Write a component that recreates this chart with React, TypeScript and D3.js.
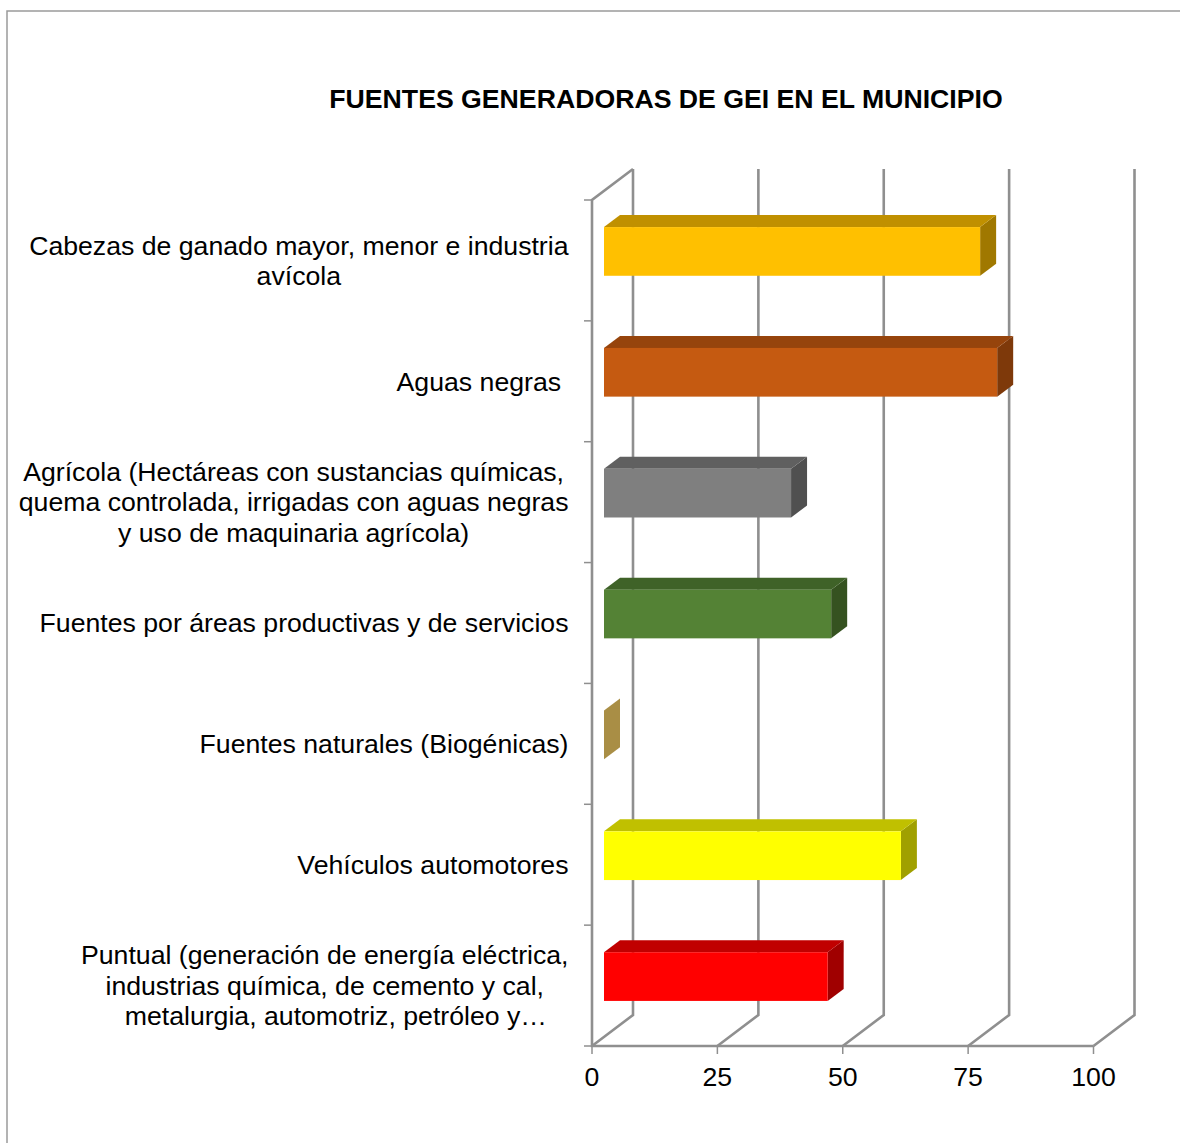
import { useEffect, useRef } from "react";
import * as d3 from "d3";

const title = "FUENTES GENERADORAS DE GEI EN EL MUNICIPIO";
const categories = ["ganado", "aguas", "agricola", "areas", "naturales", "vehiculos", "puntual"];
const labelLines = [
  ["Cabezas de ganado mayor, menor e industria", "avícola"],
  ["Aguas negras "],
  [
    "Agrícola (Hectáreas con sustancias químicas,",
    "quema controlada, irrigadas con aguas negras",
    "y uso de maquinaria agrícola)",
  ],
  ["Fuentes por áreas productivas y de servicios"],
  ["Fuentes naturales (Biogénicas)"],
  ["Vehículos automotores"],
  [
    "Puntual (generación de energía eléctrica,",
    "industrias química, de cemento y cal,",
    "   metalurgia, automotriz, petróleo y…",
  ],
];
const values = [75, 78.4, 37.3, 45.3, 0, 59.2, 44.6];
const frontColors = ["#ffc000", "#c55a11", "#7f7f7f", "#548235", "#ffffff", "#ffff00", "#ff0000"];
const topColors = ["#c09000", "#96440c", "#606060", "#3f6228", "#ffffff", "#c0c000", "#c00000"];
const sideColors = ["#a07800", "#7e390a", "#505050", "#355220", "#a98e45", "#a0a000", "#a00000"];
const xTicks = [0, 25, 50, 75, 100];

const FONT = "'Liberation Sans', Arial, sans-serif";
const GRID = "#8f8f8f";
const FONT_SIZE = 26.67;

export default function App() {
  const svgRef = useRef<SVGSVGElement | null>(null);

  useEffect(() => {
    const width = 1180;
    const height = 1143;
    const depth = { x: 41, y: 31 };
    const barDepth = { x: 16, y: 12 };

    const svg = d3.select(svgRef.current);
    svg.selectAll("*").remove();

    const x = d3.scaleLinear().domain([0, 100]).range([592, 1093.5]);
    const y = d3.scaleBand<string>().domain(categories).range([200, 1046]);
    const bottom = y.range()[1];
    const top = y.range()[0];

    // frame of the pasted chart
    svg
      .append("path")
      .attr("d", `M7,${height} V11 H${width}`)
      .attr("fill", "none")
      .attr("stroke", "#9a9a9a")
      .attr("stroke-width", 1.5);

    svg
      .append("text")
      .attr("x", 666)
      .attr("y", 108)
      .attr("text-anchor", "middle")
      .attr("font-family", FONT)
      .attr("font-size", FONT_SIZE)
      .attr("font-weight", "bold")
      .attr("fill", "#000")
      .text(title);

    // walls: back gridlines plus the floor slants
    const grid = svg
      .append("g")
      .attr("fill", "none")
      .attr("stroke", GRID)
      .attr("stroke-width", 2.6);
    xTicks.forEach((t) => {
      grid
        .append("path")
        .attr(
          "d",
          `M${x(t)},${bottom} L${x(t) + depth.x},${bottom - depth.y} V${top - depth.y}`
        );
    });
    grid
      .append("path")
      .attr("d", `M${x(0) + depth.x},${top - depth.y} L${x(0)},${top} V${bottom} H${x(100)}`);

    // ticks
    const ticks = svg.append("g").attr("stroke", GRID).attr("stroke-width", 1.5);
    categories.forEach((c) => {
      ticks
        .append("line")
        .attr("x1", x(0) - 8)
        .attr("x2", x(0))
        .attr("y1", y(c))
        .attr("y2", y(c));
    });
    ticks
      .append("line")
      .attr("x1", x(0) - 8)
      .attr("x2", x(0))
      .attr("y1", bottom)
      .attr("y2", bottom);
    xTicks.forEach((t) => {
      ticks
        .append("line")
        .attr("x1", x(t))
        .attr("x2", x(t))
        .attr("y1", bottom)
        .attr("y2", bottom + 8);
    });

    svg
      .append("g")
      .selectAll("text")
      .data(xTicks)
      .join("text")
      .attr("x", (d) => x(d))
      .attr("y", 1086)
      .attr("text-anchor", "middle")
      .attr("font-family", FONT)
      .attr("font-size", FONT_SIZE)
      .attr("fill", "#000")
      .text((d) => d);

    // bars
    const barHeight = y.bandwidth() * 0.403;
    const barOffset = y.bandwidth() * 0.224;
    categories.forEach((c, i) => {
      const x0 = x(0) + 12;
      const x1 = x0 + x(values[i]) - x(0);
      const y0 = (y(c) as number) + barOffset;
      const y1 = y0 + barHeight;
      const g = svg.append("g");
      g.append("path")
        .attr(
          "d",
          `M${x1},${y0} L${x1 + barDepth.x},${y0 - barDepth.y} V${y1 - barDepth.y} L${x1},${y1} Z`
        )
        .attr("fill", sideColors[i]);
      if (values[i] > 0) {
        g.append("path")
          .attr(
            "d",
            `M${x0},${y0} L${x0 + barDepth.x},${y0 - barDepth.y} H${x1 + barDepth.x} L${x1},${y0} Z`
          )
          .attr("fill", topColors[i]);
        g.append("rect")
          .attr("x", x0)
          .attr("y", y0)
          .attr("width", x1 - x0)
          .attr("height", barHeight)
          .attr("fill", frontColors[i]);
      }
    });

    // category labels: each block is centred, with its widest line ending at 568
    const labelRight = 568.5;
    const lineStep = 30.4;
    categories.forEach((c, i) => {
      const lines = labelLines[i];
      const g = svg.append("g");
      const center = (y(c) as number) + y.bandwidth() / 2;
      const texts = g
        .selectAll("text")
        .data(lines)
        .join("text")
        .attr("y", (_, j) => center + 9.3 + (j - (lines.length - 1) / 2) * lineStep)
        .attr("font-family", FONT)
        .attr("font-size", FONT_SIZE)
        .attr("fill", "#000")
        .style("white-space", "pre")
        .text((d) => d);
      const nodes = texts.nodes() as SVGTextElement[];
      const widest = d3.max(nodes, (n) => n.getComputedTextLength()) as number;
      texts
        .attr("text-anchor", "middle")
        .attr("x", labelRight - widest / 2);
    });
  }, []);

  return (
    <svg
      ref={svgRef}
      width={1180}
      height={1143}
      viewBox="0 0 1180 1143"
      style={{ position: "absolute", left: 0, top: 0, background: "#fff" }}
    />
  );
}
